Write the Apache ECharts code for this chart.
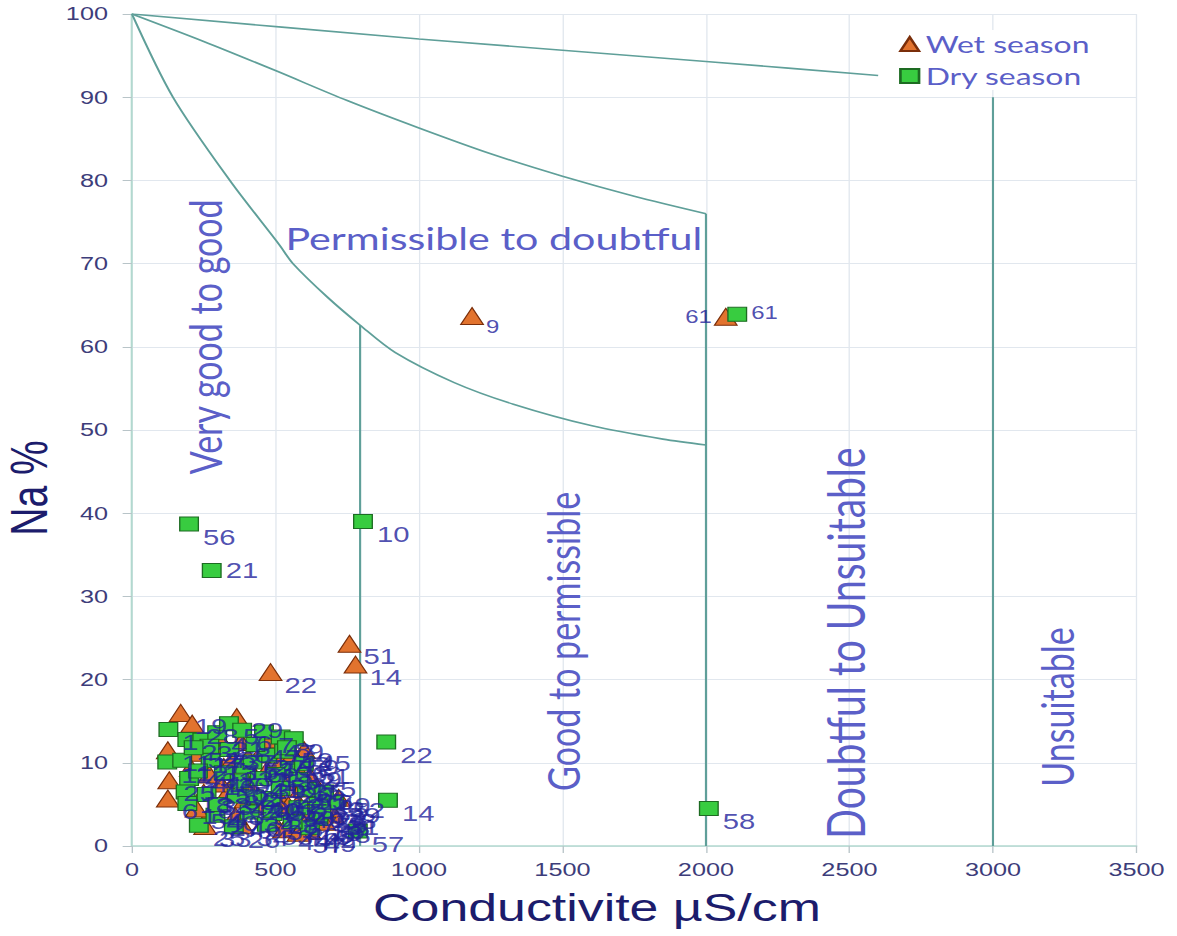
<!DOCTYPE html>
<html><head><meta charset="utf-8">
<script src="https://cdn.jsdelivr.net/npm/echarts@6/dist/echarts.min.js"></script>
<style>
html,body{margin:0;padding:0;background:#fff;overflow:hidden}
#wrap{width:1177px;height:936px;overflow:hidden;position:relative}
#chart{width:885px;height:936px;transform:scaleX(1.33);transform-origin:0 0}
</style></head>
<body><div id="wrap"><div id="chart"></div></div>
<script>
// ---------- data ----------
const xTickValues = [0, 500, 1000, 1500, 2000, 2500, 3000, 3500];
const yTickValues = [0, 10, 20, 30, 40, 50, 60, 70, 80, 90, 100];
const seriesNames = ['Wet season', 'Dry season'];

const wetId = [1,2,3,4,5,6,7,8,9,10,11,12,13,14,15,16,17,18,19,20,21,22,23,24,25,26,27,28,29,30,31,32,33,34,35,36,37,38,39,40,41,42,43,44,45,46,47,48,49,50,51,52,53,54,55,56,57,58,59,60,61];
const wetEC = [320,410,455,290,560,125,610,380,1185,270,125,505,640,779,350,600,230,470,170,540,300,483,660,395,130,580,445,210,365,520,700,250,255,385,620,340,490,690,570,280,430,650,205,530,600,360,480,545,620,310,758,720,405,225,590,500,580,670,560,440,2069];
const wetNa = [9.5,7.2,4.8,11.8,3.5,5.7,4.2,12.5,63.7,8.6,11.5,6.3,3.1,21.8,10.4,2.6,11.2,9.1,16.0,7.7,13.2,20.9,4.6,5.6,7.9,5.2,11.0,14.7,15.5,10.2,3.8,6.4,2.4,2.5,8.4,6.8,3.2,4.5,9.6,4.3,8.3,6.0,9.4,2.0,11.5,3.6,12.8,4.9,1.8,7.5,24.3,5.8,10.6,4.5,6.9,5.5,1.6,2.9,11.0,6.0,63.6];

const dryId = [1,2,3,4,5,6,7,8,9,10,11,12,13,14,15,16,17,18,19,20,21,22,23,24,25,26,27,28,29,30,31,32,33,34,35,36,37,38,39,40,41,42,43,44,45,46,47,48,49,50,51,52,53,54,55,56,57,58,59,60,61];
const dryEC = [127,193,245,297,338,384,460,518,564,805,123,175,274,892,471,610,199,187,193,425,278,886,483,518,233,355,291,490,704,320,390,550,260,410,580,650,340,650,445,580,230,620,530,365,270,560,430,300,670,500,599,215,470,375,660,199,787,2010,540,420,2109];
const dryNa = [14.0,12.8,12.7,13.6,14.7,13.9,13.7,13.1,12.9,39.0,10.1,10.3,10.3,5.5,10.9,6.8,8.1,6.5,5.1,5.9,33.1,12.5,5.7,6.9,2.5,2.3,3.7,3.9,5.2,8.8,9.6,9.3,6.2,4.1,8.0,3.3,11.6,5.0,8.1,4.6,9.0,2.2,11.4,6.0,12.0,2.9,12.2,5.0,6.5,8.6,9.9,11.8,2.6,7.8,4.1,38.7,1.8,4.5,11.8,10.1,63.9];

// Wilcox class boundaries (EC, Na%)
const boundaryTop = [[0,100],[1000,97.0],[2000,94.3],[2600,92.6]];
const boundaryMid = [[0,100],[250,96.7],[500,93.2],[750,89.6],[1000,86.3],[1250,83.2],[1500,80.5],[1750,78.1],[2000,76]];
const boundaryLow = [[0,100],[143,90],[341,80],[515,72.2],[561,70],[680,66],[795,62.6],[918,59.3],[1123,55.7],[1329,53.1],[1603,50.5],[1850,48.9],[2000,48.2]];
const divider800 = [[795,62.6],[795,0]];
const divider2000 = [[2000,76],[2000,0]];
const divider3000 = [[3000,90],[3000,0]];

const zoneNames = ['Very good to good', 'Permissible to doubtful', 'Good to permissible', 'Doubtful to Unsuitable', 'Unsuitable'];

// ---------- styling ----------
const ZONE = '#5f9f99';
const LABEL_NAVY = '#22229c';
const ZONE_TEXT = '#5b5fc8';
const zoneAnchors = [
  {at:[254,61.2], rot:true, size:34},
  {at:[1261,73.1], rot:false, size:31},
  {at:[1502,24.6], rot:true, size:34},
  {at:[2484,24.4], rot:true, size:39},
  {at:[3223,16.7], rot:true, size:34}
];
const wetLabelOverrides = {61:{position:'left', offset:[0,0], fontSize:18}, 9:{fontSize:18, offset:[0,11]}};
const dryLabelOverrides = {61:{offset:[0,-2], fontSize:18}, 21:{offset:[0,0]}};

function build(ids, ec, na){
  return ids.map((id,i)=>({value:[ec[i], na[i], id]}));
}
function buildLabels(ids, ec, na, overrides){
  return ids.map((id,i)=>{
    const d = {value:[ec[i], na[i], id]};
    if (overrides[id]) d.label = overrides[id];
    return d;
  });
}

const pointLabel = {
  show:true, position:'right', distance:10, offset:[0,13],
  formatter: p => String(p.value[2]),
  color: LABEL_NAVY, fontSize:22, fontFamily:'Liberation Sans, Arial, sans-serif'
};

function lineSeries(data, smooth){
  return {type:'line', data, symbol:'none', silent:true, z:2, animation:false, smooth: smooth || false,
    lineStyle:{color:ZONE, width:1.6}, emphasis:{disabled:true}};
}

const chart = echarts.init(document.getElementById('chart'), null, {renderer:'svg', width:885, height:936});

const option = {
  backgroundColor:'#ffffff',
  animation:false,
  grid:{left:99.2, right:30.5, top:14, bottom:90, containLabel:false, outerBoundsMode:'none'},
  legend:{
    data:[{name:seriesNames[0], icon:'triangle'},{name:seriesNames[1], icon:'rect'}],
    orient:'vertical', left:674, top:30, itemGap:8, itemWidth:14, itemHeight:14,
    backgroundColor:'#ffffff', padding:[2,6,2,2],
    textStyle:{color:ZONE_TEXT, fontSize:24, fontFamily:'Lato, sans-serif'}
  },
  xAxis:{
    type:'value', min:xTickValues[0], max:xTickValues[xTickValues.length-1], interval:500,
    name:'Conductivite µS/cm', nameLocation:'middle', nameGap:42, nameMoveOverlap:false,
    nameTextStyle:{color:'#1c1c6c', fontSize:39, fontFamily:'Liberation Sans, Arial, sans-serif', padding:[0,56,0,0]},
    axisLine:{show:true, onZero:false, lineStyle:{color:'#b2d9cf', width:1.5}},
    axisTick:{show:true, length:7, lineStyle:{color:'#b8c4c8'}},
    axisLabel:{color:'#3d3d7a', fontSize:19, margin:14, fontFamily:'Liberation Sans, Arial, sans-serif',
      formatter: v => String(v)},
    splitLine:{show:true, lineStyle:{color:'#e1e7ee', width:1}}
  },
  yAxis:{
    type:'value', min:yTickValues[0], max:yTickValues[yTickValues.length-1], interval:10,
    name:'Na %', nameLocation:'middle', nameGap:58, nameMoveOverlap:false,
    nameTextStyle:{color:'#1c1c6c', fontSize:39, fontFamily:'Liberation Sans, Arial, sans-serif', padding:[0,116,0,0]},
    axisLine:{show:true, onZero:false, lineStyle:{color:'#b2d9cf', width:1.5}},
    axisTick:{show:true, length:7, lineStyle:{color:'#b8c4c8'}},
    axisLabel:{color:'#3d3d7a', fontSize:19, margin:18, fontFamily:'Liberation Sans, Arial, sans-serif',
      formatter: v => String(v)},
    splitLine:{show:true, lineStyle:{color:'#e1e7ee', width:1}}
  },
  series:[
    lineSeries(boundaryTop, 0.2), lineSeries(boundaryMid, 0.3), lineSeries(boundaryLow, 0.3),
    lineSeries(divider800), lineSeries(divider2000), lineSeries(divider3000),
    {
      name:seriesNames[0], type:'scatter', symbol:'triangle', symbolSize:17, z:3,
      itemStyle:{color:'#e2732e', borderColor:'#7a2e0a', borderWidth:1, opacity:1},
      data:build(wetId, wetEC, wetNa)
    },
    {
      name:seriesNames[1], type:'scatter', symbol:'rect', symbolSize:14, z:4,
      itemStyle:{color:'#38cc40', borderColor:'#1d6b22', borderWidth:1, opacity:1},
      data:build(dryId, dryEC, dryNa)
    },
    // sample-number labels drawn above all markers
    {
      name:'wet-labels', type:'scatter', symbol:'circle', symbolSize:1, z:5, silent:true,
      itemStyle:{color:'rgba(0,0,0,0)', borderWidth:0},
      label:pointLabel,
      data:buildLabels(wetId, wetEC, wetNa, wetLabelOverrides)
    },
    {
      name:'dry-labels', type:'scatter', symbol:'circle', symbolSize:1, z:5, silent:true,
      itemStyle:{color:'rgba(0,0,0,0)', borderWidth:0},
      label:pointLabel,
      data:buildLabels(dryId, dryEC, dryNa, dryLabelOverrides)
    }
  ]
};
chart.setOption(option);

const graphics = zoneNames.map((t,i)=>{
  const a = zoneAnchors[i];
  const p = chart.convertToPixel({gridIndex:0}, a.at);
  return {
    type:'text', x:p[0], y:p[1], rotation: a.rot ? Math.PI/2 : 0, z:10, silent:true,
    style:{text:t, fill:ZONE_TEXT, fontSize:a.size, fontFamily:'Lato, sans-serif',
      align:'center', verticalAlign:'middle', textAlign:'center', textVerticalAlign:'middle'}
  };
});
chart.setOption({graphic:graphics});
</script>
</body></html>
